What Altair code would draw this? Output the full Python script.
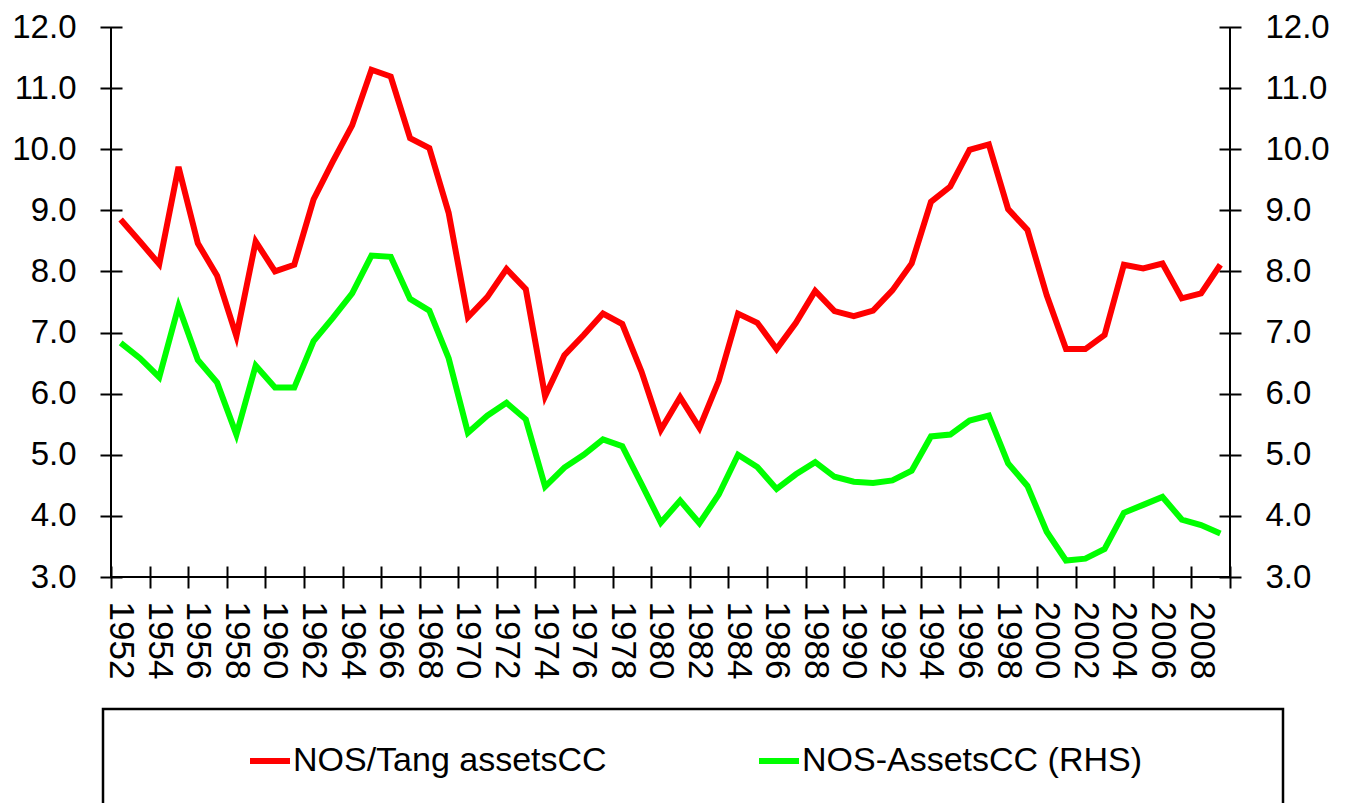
import altair as alt
import pandas as pd

years = list(range(1952, 2010))

nos_tang = [8.85, 8.49, 8.12, 9.71, 8.46, 7.93, 6.94, 8.49, 8.00, 8.11,
            9.18, 9.80, 10.39, 11.30, 11.19, 10.18, 10.02, 8.96, 7.25, 7.58,
            8.04, 7.71, 5.96, 6.63, 6.96, 7.31, 7.14, 6.36, 5.41, 5.94,
            5.44, 6.21, 7.31, 7.16, 6.73, 7.16, 7.68, 7.35, 7.27, 7.36,
            7.69, 8.13, 9.14, 9.39, 9.99, 10.08, 9.02, 8.68, 7.61, 6.73,
            6.73, 6.96, 8.11, 8.05, 8.13, 7.56, 7.64, 8.11]

nos_assets = [6.83, 6.58, 6.27, 7.43, 6.55, 6.18, 5.33, 6.46, 6.10, 6.10,
              6.86, 7.24, 7.64, 8.26, 8.24, 7.55, 7.36, 6.58, 5.36, 5.64,
              5.85, 5.58, 4.48, 4.79, 5.00, 5.25, 5.14, 4.52, 3.89, 4.25,
              3.88, 4.35, 5.00, 4.80, 4.44, 4.68, 4.88, 4.64, 4.56, 4.54,
              4.58, 4.74, 5.30, 5.33, 5.56, 5.64, 4.86, 4.49, 3.74, 3.27,
              3.30, 3.46, 4.05, 4.18, 4.31, 3.94, 3.85, 3.71]

series_names = ["NOS/Tang assetsCC", "NOS-AssetsCC (RHS)"]
series_colors = ["#FF0000", "#00FF00"]

y_ticks = [3, 4, 5, 6, 7, 8, 9, 10, 11, 12]
x_boundaries = [1951.5 + 2 * k for k in range(30)]
x_labels = list(range(1952, 2009, 2))

df_red = pd.DataFrame({"year": years, "value": nos_tang, "series": series_names[0]})
df_green = pd.DataFrame({"year": years, "value": nos_assets, "series": series_names[1]})

FONT = "Liberation Sans"
x_dom = [x_boundaries[0], x_boundaries[-1]]
y_scale = alt.Scale(domain=[3, 12], nice=False, zero=False)
x_scale = alt.Scale(domain=x_dom, nice=False, zero=False)

x_axis = alt.Axis(
    title=None,
    values=sorted(x_boundaries + x_labels),
    labelExpr="datum.value % 1 == 0 ? toString(datum.value) : ''",
    tickOpacity={"condition": {"test": "datum.value % 1 != 0", "value": 1}, "value": 0},
    labelAngle=90,
    labelAlign="left",
    labelBaseline="middle",
    labelPadding=13,
    labelFontSize=35,
    labelFont=FONT,
    labelColor="black",
    labelOverlap=False,
    labelFlush=False,
    labelBound=False,
    tickSize=22,
    tickWidth=2,
    tickColor="black",
    offset=-11,
    domain=False,
    grid=False,
)


def y_axis(orient):
    return alt.Axis(
        title=None,
        orient=orient,
        values=y_ticks,
        format=".1f",
        labelFontSize=33,
        labelFont=FONT,
        labelColor="black",
        labelPadding=24,
        tickSize=22,
        tickWidth=2,
        tickColor="black",
        offset=-11,
        domain=False,
        grid=False,
    )


legend = alt.Legend(
    title=None,
    orient="none",
    legendX=136,
    legendY=711,
    direction="horizontal",
    symbolType="stroke",
    symbolSize=1600,
    symbolStrokeWidth=6,
    labelFontSize=34,
    labelFont=FONT,
    labelColor="black",
    labelOffset=0,
    labelLimit=0,
    columnPadding=140,
    padding=0,
)
color = alt.Color(
    "series:N",
    scale=alt.Scale(domain=series_names, range=series_colors),
    legend=legend,
)

red_line = alt.Chart(df_red).mark_line(strokeWidth=6).encode(
    x=alt.X("year:Q", scale=x_scale, axis=x_axis),
    y=alt.Y("value:Q", scale=y_scale, axis=y_axis("left")),
    color=color,
)

axis_line_x = alt.Chart(alt.Data(values=[{}])).mark_rule(color="black", strokeWidth=2).encode(
    y=alt.Y(datum=3, type="quantitative", scale=y_scale, axis=y_axis("left"))
)
axis_line_left = alt.Chart(alt.Data(values=[{}])).mark_rule(color="black", strokeWidth=2).encode(
    x=alt.X(datum=x_dom[0], type="quantitative", scale=x_scale, axis=x_axis)
)
axis_line_right = alt.Chart(alt.Data(values=[{}])).mark_rule(color="black", strokeWidth=2).encode(
    x=alt.X(datum=x_dom[1], type="quantitative", scale=x_scale, axis=x_axis)
)

left = alt.layer(red_line, axis_line_x, axis_line_left, axis_line_right)

green_line = alt.Chart(df_green).mark_line(strokeWidth=6).encode(
    x=alt.X("year:Q", scale=x_scale, axis=x_axis),
    y=alt.Y("value:Q", scale=y_scale, axis=y_axis("right")),
    color=color,
)

legend_box = alt.Chart(alt.Data(values=[{}])).mark_rect(
    fill="white", fillOpacity=0, stroke="black", strokeWidth=2.5
).encode(
    x=alt.value(-8), x2=alt.value(1172), y=alt.value(682), y2=alt.value(830)
)

chart = alt.layer(legend_box, left, green_line).resolve_scale(y="independent").properties(
    width=1119,
    height=550,
    autosize=alt.AutoSizeParams(type="none"),
    padding={"left": 103, "top": 19, "right": 116, "bottom": 226},
).configure_view(stroke=None)

chart.save("out.html", embed_options={"renderer": "svg", "actions": False})
